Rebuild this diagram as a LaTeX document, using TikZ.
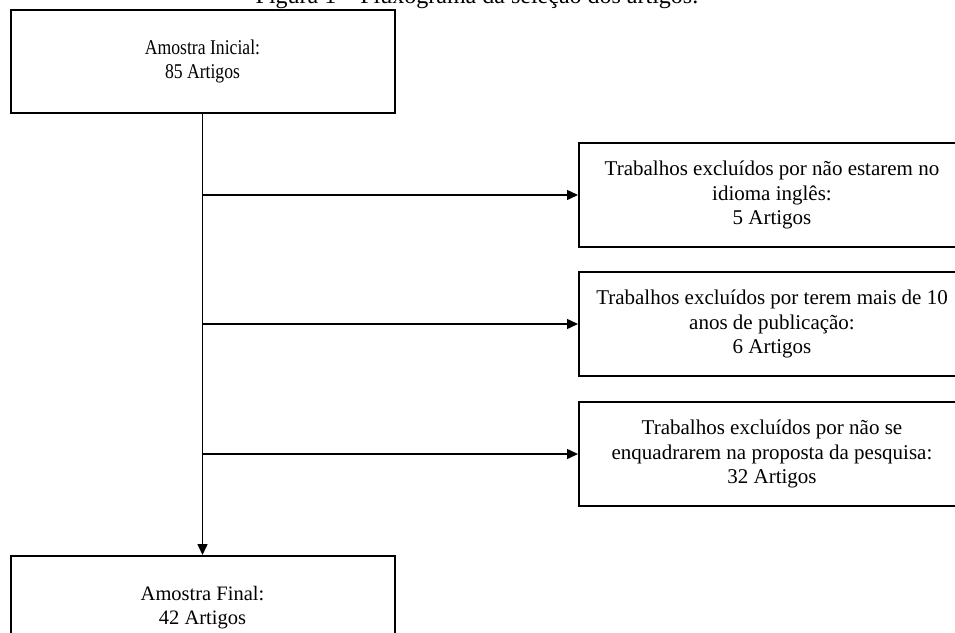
\documentclass[tikz,border=0pt]{standalone}
\usepackage{fontspec}
\setmainfont{Liberation Serif}
\newfontfamily\narrowserif[FakeStretch=0.84]{Liberation Serif}
\usetikzlibrary{arrows.meta}
\begin{document}
\begin{tikzpicture}[x=1pt,y=-1pt,
  box/.style={draw,line width=2pt,minimum width=384pt,minimum height=103pt,
    inner sep=0pt,align=center,anchor=north west,
    font=\fontsize{20.5}{24.5}\selectfont},
  sidebox/.style={box,minimum width=386pt,minimum height=104pt,
    font=\fontsize{21}{24.5}\selectfont},
  flow/.style={line width=1.4pt,-{Triangle[length=11pt,width=10pt]}}]
\useasboundingbox (0,0) rectangle (955,632);
\clip (0,0) rectangle (955,632);
% caption above the chart
\node[font=\fontsize{24}{28}\selectfont,anchor=base,inner sep=0pt] (title) at (477,3)
  {Figura 1 – Fluxograma da seleção dos artigos.};
% main column
\node[box,font=\narrowserif\fontsize{21}{24.5}\selectfont] (start) at (9.5,9) {Amostra Inicial:\\85 Artigos};
\node[box] (final) at (9.5,555) {Amostra Final:\\42 Artigos};
% exclusion boxes
\node[sidebox] (ex1) at (578,142) {Trabalhos excluídos por não estarem no\\idioma inglês:\\5 Artigos};
\node[sidebox] (ex2) at (578,271) {Trabalhos excluídos por terem mais de 10\\anos de publicação:\\6 Artigos};
\node[sidebox] (ex3) at (578,401) {Trabalhos excluídos por não se\\enquadrarem na proposta da pesquisa:\\32 Artigos};
% connectors
\draw[flow] (start.south) -- (final.north);
\draw[flow] (start.south |- ex1.west) -- (ex1.west);
\draw[flow] (start.south |- ex2.west) -- (ex2.west);
\draw[flow] (start.south |- ex3.west) -- (ex3.west);
\end{tikzpicture}
\end{document}
